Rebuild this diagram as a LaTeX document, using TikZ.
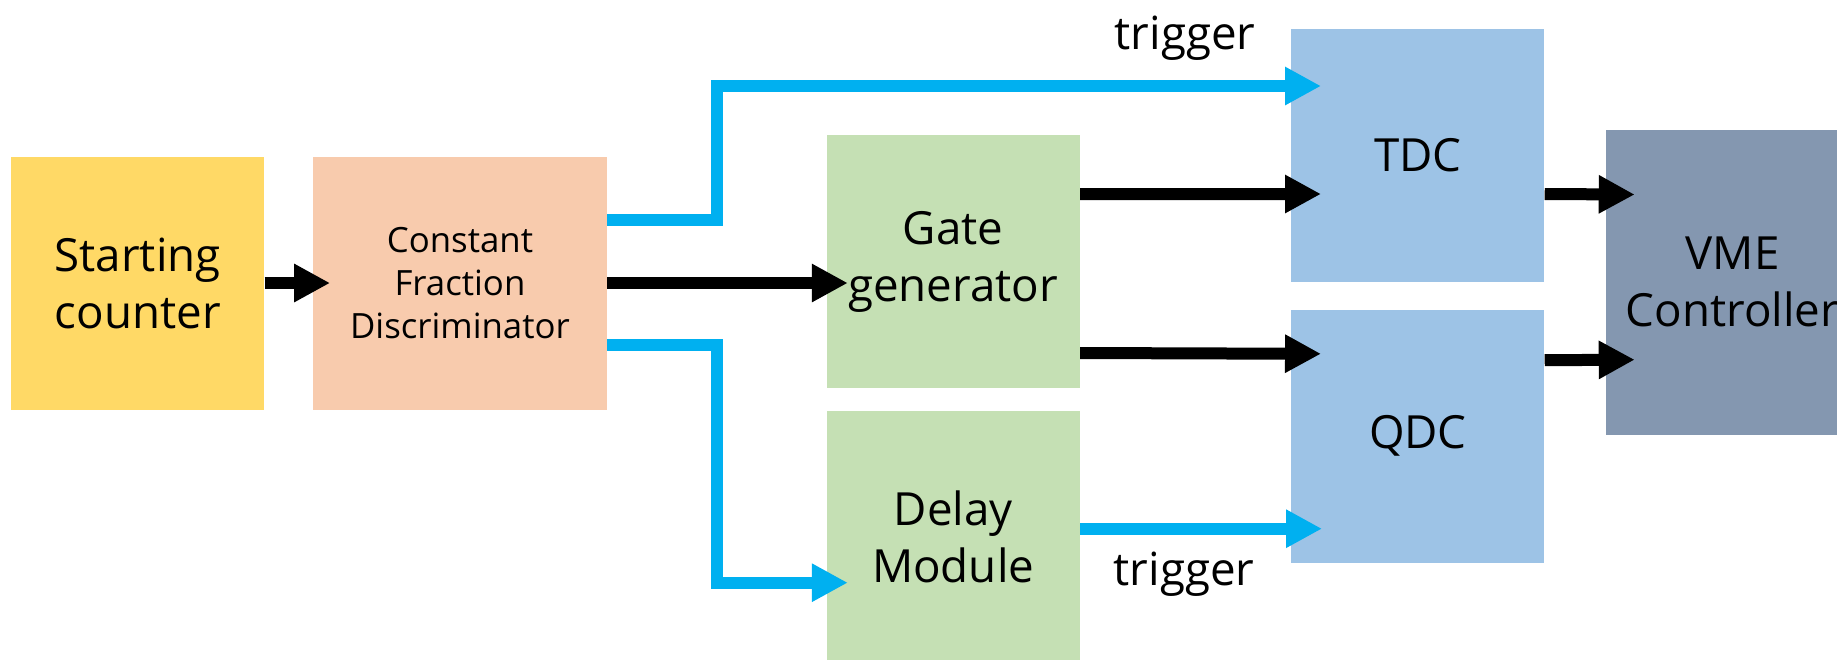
\documentclass[tikz,border=0pt]{standalone}
\usepackage{fontspec}
\setmainfont{Open Sans}
\usepackage{tikz}
\usetikzlibrary{arrows.meta, positioning, calc}
\usepackage{xcolor}
\definecolor{counterfill}{HTML}{FFD966}
\definecolor{cfdfill}{HTML}{F8CBAD}
\definecolor{modfill}{HTML}{C5E0B4}
\definecolor{adcfill}{HTML}{9DC3E6}
\definecolor{vmefill}{HTML}{8497B0}
\definecolor{trigblue}{HTML}{00B0F0}
\tikzset{
  block/.style={rectangle, minimum width=5.06cm, minimum height=5.06cm, inner sep=0pt, text centered, align=center, font=\fontsize{26}{32.4}\selectfont},
  counter/.style={block, fill=counterfill},
  cfd/.style={block, minimum width=5.88cm, fill=cfdfill, font=\fontsize{19.8}{24.6}\selectfont},
  module/.style={block, fill=modfill},
  adc/.style={block, fill=adcfill},
  controller/.style={block, minimum height=6.1cm, fill=vmefill},
  arrow/.style={line width=0.24cm, -{Triangle[length=0.72cm, width=0.72cm]}, color=black},
  trigarrow/.style={arrow, color=trigblue},
  lbl/.style={font=\fontsize{26}{32.4}\selectfont, inner sep=0pt, anchor=base}
}

\begin{document}
\begin{tikzpicture}
    \useasboundingbox (0,0) rectangle (36.74,-13.18);
    % Defining nodes
    \node[counter] (sc) at (2.755,-5.66) {Starting\\counter};
    \node[cfd, right=0.96cm of sc] (cfd) {Constant\\Fraction\\Discriminator};
    \node[module, right=4.38cm of cfd, yshift=0.43cm] (gate) {Gate\\generator};
    \node[module, below=0.44cm of gate] (delay) {Delay\\Module};
    \node[adc, right=4.22cm of gate, yshift=2.12cm] (tdc) {TDC};
    \node[adc, below=0.54cm of tdc] (qdc) {QDC};
    \node[controller, right=1.22cm of tdc.south east] (vme) {VME\\Controller};
    \node[lbl] (trigtdc) at ([xshift=-2.12cm, yshift=2.13cm]tdc.west) {trigger};
    \node[lbl] (trigqdc) at ([xshift=-2.14cm, yshift=-2.99cm]qdc.west) {trigger};

    % Drawing arrows
    \draw[arrow, shorten >=-0.35cm] (sc) -- (cfd);
    \draw[arrow, shorten >=-0.43cm] (cfd.east) -- (cfd.east -| gate.west);
    \draw[trigarrow, shorten >=-0.6cm] ([yshift=1.26cm]cfd.east) -- ++(2.2,0) |- ([yshift=1.39cm]tdc.west);
    \draw[trigarrow, shorten >=-0.43cm] ([yshift=-1.24cm]cfd.east) -- ++(2.2,0) |- ([yshift=-0.91cm]delay.west);
    \draw[arrow, shorten >=-0.6cm] ([yshift=1.35cm]gate.east) -- ([yshift=-0.77cm]tdc.west);
    \draw[arrow, shorten >=-0.6cm] ([yshift=-1.83cm]gate.east) -- ([yshift=1.65cm]qdc.west);
    \draw[trigarrow, shorten >=-0.62cm] ([yshift=0.17cm]delay.east) -- ([yshift=-1.85cm]qdc.west);
    \draw[arrow, shorten >=-0.58cm] ([yshift=-0.77cm]tdc.east) -- ([yshift=1.76cm]vme.west);
    \draw[arrow, shorten >=-0.58cm] ([yshift=1.52cm]qdc.east) -- ([yshift=-1.55cm]vme.west);
\end{tikzpicture}
\end{document}
